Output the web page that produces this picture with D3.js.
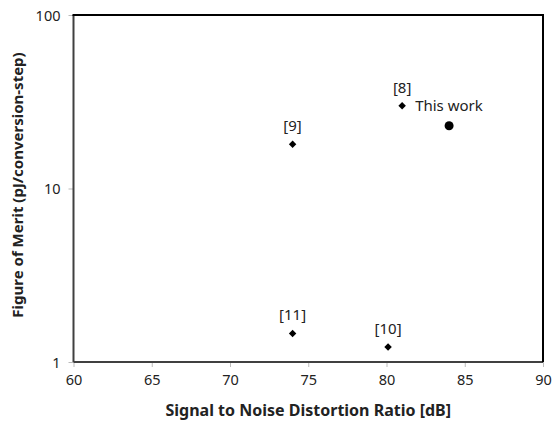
<!DOCTYPE html>
<html>
<head>
<meta charset="utf-8">
<script src="https://cdn.jsdelivr.net/npm/d3@7"></script>
<style>
  body { margin: 0; background: #fff; }
  text { font-family: "Noto Sans", "DejaVu Sans", sans-serif; }
</style>
</head>
<body>
<div id="chart"></div>
<script>
// Reference designs
const refLabels = ["[8]", "[9]", "[10]", "[11]"];
const refSndr = [81, 74, 80.1, 74];
const refFom = [30, 18, 1.22, 1.46];

// This work
const workLabel = "This work";
const workSndr = [84];
const workFom = [23];

const xTicks = [60, 65, 70, 75, 80, 85, 90];
const yTicks = [1, 10, 100];

const margin = {top: 15, right: 9, bottom: 61, left: 73.5};
const width = 552 - margin.left - margin.right;
const height = 423 - margin.top - margin.bottom;

const svg = d3.select("#chart")
  .append("svg")
    .attr("width", 552)
    .attr("height", 423);

const g = svg.append("g")
  .attr("transform", "translate(" + margin.left + "," + margin.top + ")");

const xScale = d3.scaleLinear().domain([60, 90]).range([0, width]);
const yScale = d3.scaleLog().domain([1, 100]).range([height, 0]);

// Axes
const xAxis = g.append("g")
  .attr("transform", `translate(0,${height})`)
  .call(d3.axisBottom(xScale).tickValues(xTicks).tickSize(5).tickPadding(8).tickFormat(d3.format("d")));
const yAxis = g.append("g")
  .call(d3.axisLeft(yScale).tickValues(yTicks).tickSize(5).tickPadding(8).tickFormat(d3.format("d")));

[xAxis, yAxis].forEach(a => {
  a.select(".domain").remove();
  a.selectAll(".tick line").attr("stroke", "#bbb");
  a.selectAll(".tick text").style("font-size", "14.5px").attr("fill", "#222");
});
yAxis.selectAll(".tick text").attr("dy", "0.35em");

// Frame: left/bottom gray, top/right black
g.append("line").attr("x1", 0).attr("x2", 0).attr("y1", 0).attr("y2", height)
  .attr("stroke", "#404040").attr("stroke-width", 2);
g.append("line").attr("x1", 0).attr("x2", width).attr("y1", height).attr("y2", height)
  .attr("stroke", "#404040").attr("stroke-width", 2);
g.append("line").attr("x1", -1).attr("x2", width + 1).attr("y1", 0).attr("y2", 0)
  .attr("stroke", "#000").attr("stroke-width", 2);
g.append("line").attr("x1", width).attr("x2", width).attr("y1", 0).attr("y2", height)
  .attr("stroke", "#000").attr("stroke-width", 2);

// Reference points (diamonds = rotated squares)
const refData = refLabels.map((l, i) => ({label: l, x: refSndr[i], y: refFom[i]}));
g.selectAll(".ref")
  .data(refData)
  .enter()
  .append("path")
    .attr("class", "ref")
    .attr("d", d3.symbol().type(d3.symbolSquare).size(28))
    .attr("transform", d => `translate(${xScale(d.x)},${yScale(d.y)}) rotate(45)`)
    .attr("fill", "#000");

g.selectAll(".refLabel")
  .data(refData)
  .enter()
  .append("text")
    .attr("class", "refLabel")
    .attr("x", d => xScale(d.x))
    .attr("y", d => yScale(d.y) - 13)
    .attr("text-anchor", "middle")
    .style("font-size", "15px")
    .attr("fill", "#222")
    .text(d => d.label);

// This work (circle)
g.selectAll(".work")
  .data(workSndr)
  .enter()
  .append("circle")
    .attr("cx", d => xScale(d))
    .attr("cy", (d, i) => yScale(workFom[i]))
    .attr("r", 4.5)
    .attr("fill", "#000");

g.append("text")
  .attr("x", xScale(refSndr[0]) + 13)
  .attr("y", yScale(refFom[0]) + 5)
  .style("font-size", "15px")
  .attr("fill", "#222")
  .text(workLabel);

// Axis titles
svg.append("text")
  .attr("x", margin.left + width / 2)
  .attr("y", 416)
  .attr("text-anchor", "middle")
  .style("font-size", "16px")
  .style("font-weight", "bold")
  .attr("fill", "#222")
  .text("Signal to Noise Distortion Ratio [dB]");

svg.append("text")
  .attr("transform", "translate(23,185) rotate(-90)")
  .attr("text-anchor", "middle")
  .style("font-size", "15px")
  .style("font-weight", "bold")
  .attr("fill", "#222")
  .text("Figure of Merit (pJ/conversion-step)");
</script>
</body>
</html>
